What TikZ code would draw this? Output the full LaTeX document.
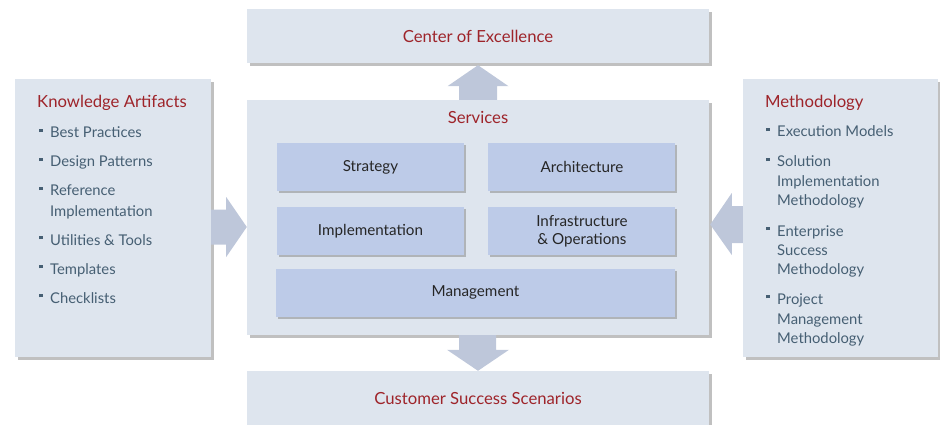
\documentclass[tikz,border=0pt]{standalone}
\usepackage{fontspec}
\setmainfont{Lato}
\usetikzlibrary{positioning,calc,shadows}

\definecolor{boxbg}{RGB}{222,229,238}
\definecolor{innerbg}{RGB}{189,203,232}
\definecolor{arrowc}{RGB}{190,199,218}
\definecolor{titlered}{RGB}{158,36,42}
\definecolor{listc}{RGB}{70,95,115}
\newcommand{\itembul}{\llap{\rule[5.75pt]{3.5pt}{3.5pt}\hspace{7.5pt}}}

\begin{document}
\begin{tikzpicture}[x=1pt, y=-1pt, node distance=15pt]
\tikzstyle{panel}=[fill=boxbg, inner sep=0pt, drop shadow={shadow xshift=3pt, shadow yshift=-3pt, fill=black!45, opacity=.55}]
\tikzstyle{inbox}=[fill=innerbg, minimum width=187pt, minimum height=48pt, align=center, text=black!85, font=\fontsize{15.2}{18}\selectfont, drop shadow={shadow xshift=2pt, shadow yshift=-2pt, fill=black!45, opacity=.55}]
\tikzstyle{heading}=[text=titlered, font=\fontsize{16.7}{20}\selectfont, inner sep=0pt]
\tikzstyle{listtext}=[text=listc, font=\fontsize{14.8}{19.5}\selectfont, inner sep=0pt, anchor=base west]
\tikzstyle{blockarrow}=[fill=arrowc]

\useasboundingbox (0,0) rectangle (940,425);

% outer panels
\node[panel, minimum width=462pt, minimum height=54pt]  (coe)  at (478,36)    {};
\node[panel, minimum width=462pt, minimum height=235pt] (svc)  at (478,217.5) {};
\node[panel, minimum width=462pt, minimum height=70pt]  (css)  at (478,406)   {};
\node[panel, minimum width=196pt, minimum height=278pt] (ka)   at (113,218)   {};
\node[panel, minimum width=195pt, minimum height=278pt] (meth) at (840.5,218) {};

% block arrows
\fill[blockarrow] ($(svc.north)+(-19,0)$) |- ($(coe.south)+(-30.5,23)$) -- ($(coe.south)+(0,2)$)
    -- ($(coe.south)+(30.5,23)$) -| ($(svc.north)+(19,0)$) -- cycle;
\fill[blockarrow] ($(svc.south)+(-19,0)$) |- ($(css.north)+(-31,-21)$) -- (css.north)
    -- ($(css.north)+(31,-21)$) -| ($(svc.south)+(18,0)$) -- cycle;
\fill[blockarrow] ($(ka.east)+(0,-8.5)$) -- ($(ka.east)+(15,-8.5)$) -- ($(ka.east)+(15,-21)$)
    -- ($(svc.west)+(0,9.5)$) -- ($(ka.east)+(15,39)$) -- ($(ka.east)+(15,26.5)$) -- ($(ka.east)+(0,26.5)$) -- cycle;
\fill[blockarrow] ($(meth.west)+(0,-12)$) -- ($(meth.west)+(-11,-12)$) -- ($(meth.west)+(-11,-25)$)
    -- ($(svc.east)+(1,7)$) -- ($(meth.west)+(-11,37)$) -- ($(meth.west)+(-11,25)$) -- ($(meth.west)+(0,25)$) -- cycle;

% headings
\node[heading, anchor=base]      (coet)  at (478,43)  {Center of Excellence};
\node[heading, anchor=base]      (svct)  at (478,124) {Services};
\node[heading, anchor=base]      (csst)  at (478,404) {Customer Success Scenarios};
\node[heading, anchor=base west] (kat)   at (37,108)  {Knowledge Artifacts};
\node[heading, anchor=base west] (metht) at (765,108) {Methodology};

% services
\node[inbox]                    (strat) at (370.5,167) {Strategy};
\node[inbox, right=24pt of strat] (arch)  {Architecture};
\node[inbox, below=16pt of strat] (impl)  {Implementation};
\node[inbox, below=16pt of arch]  (infra) {Infrastructure\\\& Operations};
\node[inbox, minimum width=399pt, below right=13pt and -1pt of impl.south west] (mgmt) {Management};

% knowledge artifacts
\node[listtext] (ka1) at (50,138) {\itembul Best Practices};
\node[listtext] (ka2) at (50,167) {\itembul Design Patterns};
\node[listtext] (ka3) at (50,196) {\itembul Reference};
\node[listtext] (ka4) at (50,216) {Implementation};
\node[listtext] (ka5) at (50,245) {\itembul Utilities \& Tools};
\node[listtext] (ka6) at (50,274) {\itembul Templates};
\node[listtext] (ka7) at (50,303) {\itembul Checklists};

% methodology
\node[listtext] (m1)  at (777,137) {\itembul Execution Models};
\node[listtext] (m2)  at (777,167) {\itembul Solution};
\node[listtext] (m3)  at (777,186) {Implementation};
\node[listtext] (m4)  at (777,205) {Methodology};
\node[listtext] (m5)  at (777,236) {\itembul Enterprise};
\node[listtext] (m6)  at (777,255) {Success};
\node[listtext] (m7)  at (777,274) {Methodology};
\node[listtext] (m8)  at (777,304) {\itembul Project};
\node[listtext] (m9)  at (777,324) {Management};
\node[listtext] (m10) at (777,343) {Methodology};

\end{tikzpicture}
\end{document}
